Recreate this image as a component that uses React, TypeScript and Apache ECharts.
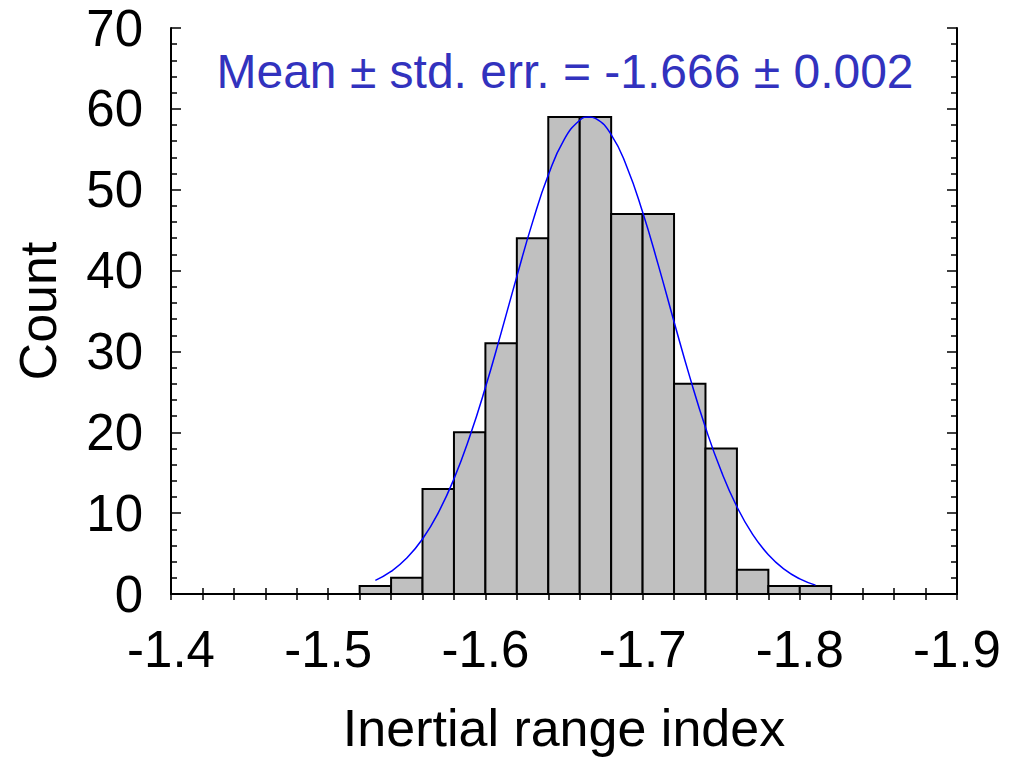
import React, { useEffect, useRef } from "react";
import * as echarts from "echarts";

// Histogram bins (centre of each 0.02-wide bin) and counts
const binCenters = [-1.53, -1.55, -1.57, -1.59, -1.61, -1.63, -1.65, -1.67, -1.69, -1.71, -1.73, -1.75, -1.77, -1.79, -1.81];
const counts = [1, 2, 13, 20, 31, 44, 59, 59, 47, 47, 26, 18, 3, 1, 1];
const BIN_WIDTH = 0.02;

// Fitted Gaussian curve
const fitX = [-1.53, -1.54, -1.55, -1.56, -1.57, -1.58, -1.59, -1.6, -1.61, -1.62, -1.63, -1.64, -1.65, -1.66, -1.666, -1.67, -1.68, -1.69, -1.7, -1.71, -1.72, -1.73, -1.74, -1.75, -1.76, -1.77, -1.78, -1.79, -1.8, -1.81];
const fitY = [1.69, 2.79, 4.44, 6.8, 10.04, 14.24, 19.44, 25.53, 32.29, 39.28, 45.99, 51.81, 56.17, 58.59, 59.0, 58.82, 56.82, 52.82, 47.24, 40.67, 33.68, 26.85, 20.59, 15.2, 10.79, 7.37, 4.85, 3.07, 1.87, 1.1];

const annotation = "Mean \u00b1 std. err. = -1.666 \u00b1 0.002";
const xTitle = "Inertial range index";
const yTitle = "Count";

const FONT = "'Liberation Sans', Arial, sans-serif";

export default function App() {
  const ref = useRef<HTMLDivElement>(null);
  useEffect(() => {
    document.body.style.margin = "0";
    const chart = echarts.init(ref.current!, null, { renderer: "svg" });
    const axisLine = { show: true, lineStyle: { color: "#000", width: 2 } };
    const xCommon = {
      type: "value" as const,
      min: -1.9,
      max: -1.4,
      interval: 0.1,
      inverse: true,
      axisLine,
      axisTick: { show: true, inside: true, length: 6, lineStyle: { color: "#000", width: 1.5 } },
      minorTick: { show: true, splitNumber: 5, length: 6, lineStyle: { color: "#000", width: 1.5 } },
      splitLine: { show: false },
      minorSplitLine: { show: false },
    };
    const yCommon = {
      type: "value" as const,
      min: 0,
      max: 70,
      interval: 10,
      axisLine,
      axisTick: { show: true, inside: true, length: 10, lineStyle: { color: "#000", width: 1.5 } },
      minorTick: { show: true, splitNumber: 5, length: 6, lineStyle: { color: "#000", width: 1.5 } },
      splitLine: { show: false },
      minorSplitLine: { show: false },
    };
    const barData = binCenters.map((c, i) => [c, counts[i]]);
    const fitData = fitX.map((x, i) => [x, fitY[i]]);
    chart.setOption({
      animation: false,
      backgroundColor: "#fff",
      grid: { left: 171, right: 67, top: 28, bottom: 164, containLabel: false },
      xAxis: [
        {
          ...xCommon,
          position: "bottom",
          axisLabel: {
            show: true,
            margin: 30,
            fontSize: 51,
            color: "#000",
            fontFamily: FONT,
            formatter: (v: number) => v.toFixed(1),
          },
        },
        { ...xCommon, position: "top", axisLabel: { show: false } },
      ],
      yAxis: [
        {
          ...yCommon,
          position: "left",
          axisLabel: { show: true, margin: 28, fontSize: 51, color: "#000", fontFamily: FONT },
        },
        { ...yCommon, position: "right", axisLabel: { show: false } },
      ],
      series: [
        {
          type: "custom",
          xAxisIndex: 0,
          yAxisIndex: 0,
          encode: { x: 0, y: 1 },
          data: barData,
          renderItem: (params: any, api: any) => {
            const c = api.value(0);
            const v = api.value(1);
            const p1 = api.coord([c - BIN_WIDTH / 2, v]);
            const p2 = api.coord([c + BIN_WIDTH / 2, 0]);
            return {
              type: "rect",
              shape: {
                x: Math.min(p1[0], p2[0]),
                y: p1[1],
                width: Math.abs(p2[0] - p1[0]),
                height: p2[1] - p1[1],
              },
              style: { fill: "#c0c0c0", stroke: "#000", lineWidth: 2 },
            };
          },
          z: 2,
        },
        {
          type: "line",
          xAxisIndex: 0,
          yAxisIndex: 0,
          data: fitData,
          smooth: true,
          showSymbol: false,
          symbol: "none",
          lineStyle: { color: "#0000ff", width: 1.5 },
          z: 3,
        },
      ],
      graphic: [
        {
          type: "text",
          x: 565,
          y: 71,
          style: {
            text: annotation,
            fill: "#3232be",
            fontSize: 48,
            fontFamily: FONT,
            textAlign: "center",
            textVerticalAlign: "middle",
          },
          z: 10,
        },
        {
          type: "text",
          x: 564,
          y: 728,
          style: {
            text: xTitle,
            fill: "#000",
            fontSize: 52,
            fontFamily: FONT,
            textAlign: "center",
            textVerticalAlign: "middle",
          },
        },
        {
          type: "text",
          x: 38,
          y: 311,
          rotation: Math.PI / 2,
          style: {
            text: yTitle,
            fill: "#000",
            fontSize: 52,
            fontFamily: FONT,
            textAlign: "center",
            textVerticalAlign: "middle",
          },
        },
      ],
    });
    return () => chart.dispose();
  }, []);
  return <div ref={ref} style={{ position: "fixed", left: 0, top: 0, width: 1024, height: 758 }} />;
}
